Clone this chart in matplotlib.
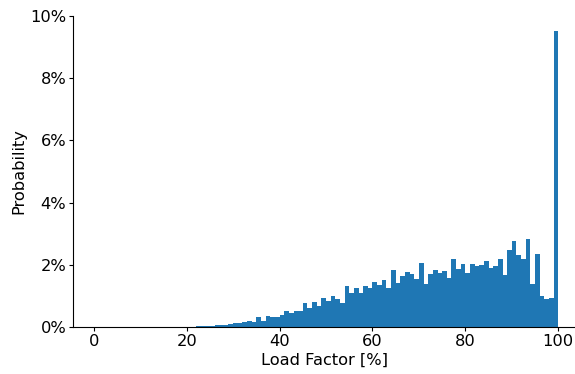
import numpy as np
import matplotlib
matplotlib.use("Agg")
import matplotlib.pyplot as plt
from matplotlib.ticker import PercentFormatter

# Load-factor bins (left edges, 1 % wide) and their probability in percent
bin_edges = list(range(0, 101))
prob_pct = (
    [0.0] * 22 +
    [0.03, 0.03, 0.03, 0.03, 0.06, 0.06, 0.06, 0.10,          # 22-29
     0.13, 0.13, 0.16, 0.19, 0.16, 0.32, 0.19, 0.35, 0.32, 0.32,  # 30-39
     0.39, 0.52, 0.45, 0.52, 0.52, 0.77, 0.61, 0.81, 0.68, 0.94,  # 40-49
     0.84, 1.00, 0.90, 0.77, 1.32, 1.10, 1.26, 1.10, 1.32, 1.26,  # 50-59
     1.45, 1.35, 1.52, 1.26, 1.84, 1.42, 1.65, 1.77, 1.71, 1.55,  # 60-69
     2.06, 1.39, 1.71, 1.84, 1.74, 1.81, 1.58, 2.19, 1.87, 2.03,  # 70-79
     1.74, 2.03, 1.97, 2.00, 2.13, 1.90, 1.97, 2.19, 1.68, 2.48,  # 80-89
     2.77, 2.32, 2.19, 2.84, 1.40, 2.35, 1.00, 0.90, 0.94, 9.52]  # 90-99
)
x_ticks = [0, 20, 40, 60, 80, 100]
y_ticks = [0.0, 0.02, 0.04, 0.06, 0.08, 0.10]

W, H = 575, 374
fig = plt.figure(figsize=(W / 100, H / 100), dpi=100)
ax = fig.add_axes([73.3 / W, (H - 327.3) / H, (575 - 73.3) / W, (327.3 - 15.7) / H])

left = np.array(bin_edges[:-1], dtype=float)
weights = np.array(prob_pct) / 100.0
ax.hist(left, bins=bin_edges, weights=weights, color="#1f77b4")

ax.set_xlim(-4.41, 103.6)
ax.set_ylim(0, 0.10)
ax.set_xticks(x_ticks)
ax.set_yticks(y_ticks)
ax.yaxis.set_major_formatter(PercentFormatter(1.0, decimals=0))
ax.tick_params(labelsize=11.7, length=2.9, pad=2.1)

ax.spines["top"].set_visible(False)
ax.spines["right"].set_visible(False)

ax.set_xlabel("Load Factor [%]", fontsize=11.7, labelpad=2.5)
ax.set_ylabel("Probability", fontsize=11.7, labelpad=2.5)

fig.savefig("out.png", dpi=100)
